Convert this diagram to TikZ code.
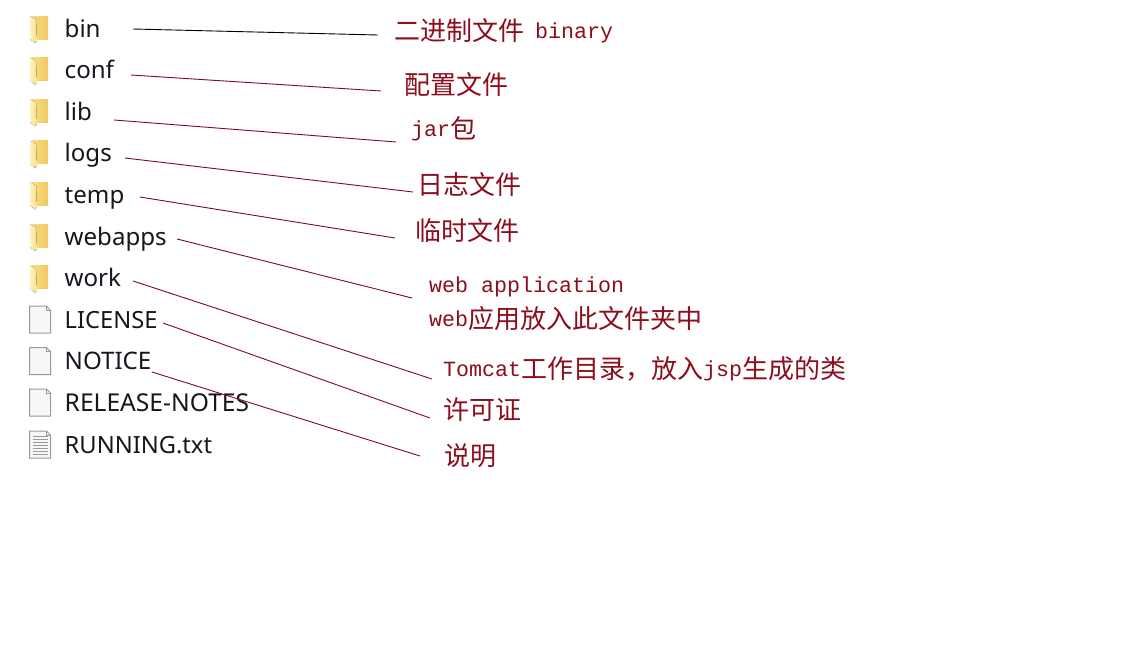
\documentclass[tikz,border=0pt]{standalone}
\usepackage{fontspec}
\setmainfont{Noto Sans}
\newfontfamily\cjkf{Noto Sans CJK SC}
\newfontfamily\monof{Liberation Mono}
\definecolor{lead}{HTML}{7F0A24}
\definecolor{labelred}{HTML}{8B0F1E}
\definecolor{fileink}{HTML}{14181E}
\definecolor{foldA}{HTML}{F0C860}
\definecolor{foldB}{HTML}{FBDD85}
\definecolor{foldC}{HTML}{FFF3C4}
\definecolor{pageedge}{HTML}{9A9A9A}
\definecolor{pagefill}{HTML}{F7F7F7}
\newcommand{\M}[1]{\raisebox{1pt}{\monof #1}}
\newcommand{\C}[1]{\raisebox{-1.5pt}{\cjkf\fontsize{26}{26}\selectfont #1}}
\tikzset{
  fname/.style={anchor=base west,inner sep=0pt,text=fileink,font=\fontsize{24.1}{26}\selectfont},
  fcaps/.style={fname,font=\fontsize{24.6}{26}\selectfont},
  flic/.style={fname,font=\fontsize{23.7}{26}\selectfont},
  note/.style={anchor=base west,inner sep=0pt,text=labelred,font=\fontsize{21.67}{26}\selectfont},
  leadline/.style={draw=lead,line width=0.9pt},
  pics/folder/.style={code={
    \fill[left color=foldB,right color=foldA] (2,0) -- (18,0) -- (18,23) -- (2,23) -- cycle;
    \fill[left color=foldC,right color=foldB] (0,0) -- (6,3) -- (7,25) -- (5,27) -- (0,23) -- cycle;
  }},
  pics/pagefile/.style={code={
    \fill[pagefill] (0,0) -- (17,0) -- (21,4) -- (21,27) -- (0,27) -- cycle;
    \draw[pageedge,line width=1pt] (0,0) -- (17,0) -- (21,4) -- (21,27) -- (0,27) -- cycle;
    \draw[pageedge,line width=.8pt] (17,0) -- (17,4) -- (21,4);
  }},
  pics/textfile/.style={code={
    \fill[pagefill] (0,0) -- (17,0) -- (21,4) -- (21,27) -- (0,27) -- cycle;
    \draw[pageedge,line width=1pt] (0,0) -- (17,0) -- (21,4) -- (21,27) -- (0,27) -- cycle;
    \draw[pageedge,line width=.8pt] (17,0) -- (17,4) -- (21,4);
    \foreach \yy in {5,8,...,24} \draw[pageedge,line width=1pt] (3,\yy) -- (18,\yy);
  }},
}
\begin{document}
\begin{tikzpicture}[x=1pt,y=-1pt]
\useasboundingbox (0,0) rectangle (1128,646);
\fill[white] (0,0) rectangle (1128,646);
% icons
\foreach \yy in {16,57.6,99.2,140.8,182.4,224,265.6} \pic at (30,\yy) {folder};
\pic at (29.5,306) {pagefile};
\pic at (29.5,347.5) {pagefile};
\pic at (29.5,389) {pagefile};
\pic at (29.5,431) {textfile};
% file names
\node[fname] (bin) at (64.5,37) {bin};
\node[fname] (conf) at (64.5,78.6) {conf};
\node[fname] (lib) at (64.5,120.2) {lib};
\node[fname] (logs) at (64.5,161.8) {logs};
\node[fname] (temp) at (64.5,203.4) {temp};
\node[fname] (webapps) at (64.5,245) {webapps};
\node[fname] (work) at (64.5,286.6) {work};
\node[flic] (license) at (64.5,328.2) {LICENSE};
\node[fname] (notice) at (64.5,369.8) {NOTICE};
\node[fcaps] (release) at (64.5,411.4) {RELEASE-NOTES};
\node[flic] (running) at (64.5,453) {RUNNING.txt};
% notes
\node[note] (nbin) at (394,39) {\C{二进制文件}\M{\kern11pt binary}};
\node[note] (nconf) at (404,93) {\C{配置文件}};
\node[note] (nlib) at (411,137) {\M{jar}\C{包}};
\node[note] (nlogs) at (417,193) {\C{日志文件}};
\node[note] (ntemp) at (415,239) {\C{临时文件}};
\node[note] (nweb) at (429,293) {\M{web application}};
\node[note] (nwebb) at (429,327) {\M{web}\C{应用放入此文件夹中}};
\node[note] (nwork) at (443,377) {\M{Tomcat}\C{工作目录，放入}\M{jsp}\C{生成的类}};
\node[note] (nlicense) at (443,418) {\C{许可证}};
\node[note] (nnotice) at (444,464) {\C{说明}};
% connector ends
\coordinate (s1) at (133,29);   \coordinate (e1) at (378,35);
\coordinate (s2) at (131,75);   \coordinate (e2) at (381,91);
\coordinate (s3) at (114,120);  \coordinate (e3) at (396,142);
\coordinate (s4) at (125,158);  \coordinate (e4) at (413,192);
\coordinate (s5) at (140,197);  \coordinate (e5) at (395,238);
\coordinate (s6) at (177,239);  \coordinate (e6) at (412,298);
\coordinate (s7) at (133,281);  \coordinate (e7) at (432,379);
\coordinate (s8) at (163,323);  \coordinate (e8) at (430,418);
\coordinate (s9) at (152,372);  \coordinate (e9) at (420,456);
\draw[black,line width=0.9pt] (s1) -- (e1);
\foreach \i in {2,...,9} \draw[leadline] (s\i) -- (e\i);
\end{tikzpicture}
\end{document}
